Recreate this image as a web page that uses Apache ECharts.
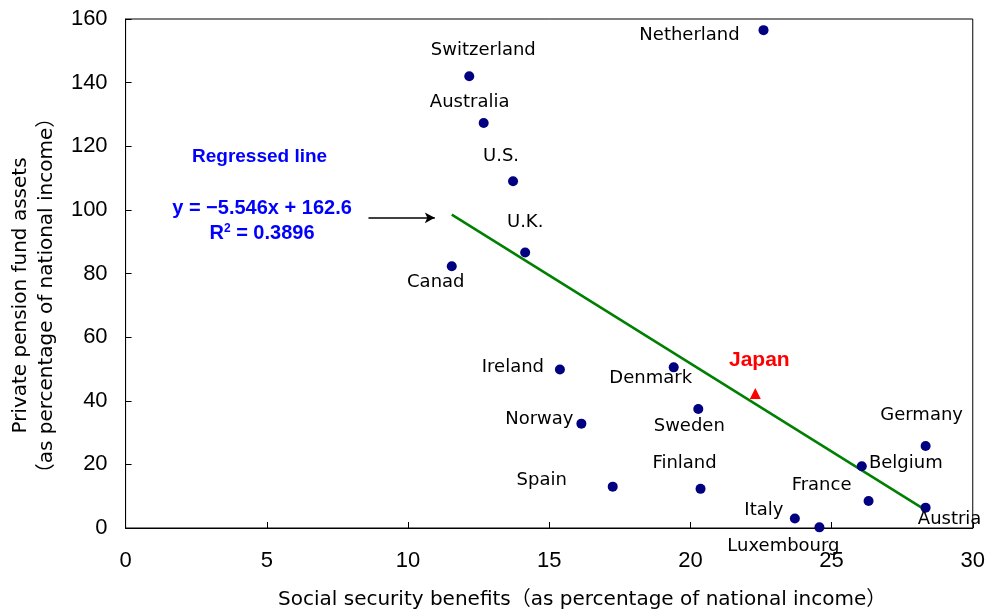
<!DOCTYPE html>
<html>
<head>
<meta charset="utf-8">
<script src="https://cdn.jsdelivr.net/npm/echarts@6/dist/echarts.min.js"></script>
<style>html,body{margin:0;padding:0;background:#fff}#c{width:988px;height:615px}</style>
</head>
<body>
<div id="c"></div>
<script>
// ---- data ----
const countries = ["Netherland","Switzerland","Australia","U.S.","U.K.","Canad","Ireland","Norway","Spain","Denmark","Sweden","Finland","Italy","Luxembourg","Belgium","France","Germany","Austria"];
const socialBenefits = [22.59,12.17,12.68,13.72,14.15,11.55,15.38,16.14,17.25,19.41,20.28,20.36,23.70,24.57,26.07,26.31,28.33,28.33];
const pensionAssets = [156.5,142.0,127.3,109.0,86.6,82.3,49.8,32.8,13.0,50.5,37.4,12.3,3.0,0.2,19.4,8.5,25.8,6.4];
const japanName = "Japan";
const japanBenefit = 22.30;
const japanAssets = 42.3;
const regressionX = [11.55, 28.33];
const regressionY = [98.5, 5.6];
const xTicks = {min:0, max:30, step:5};
const yTicks = {min:0, max:160, step:20};

// ---- styling (label offsets in px, relative to each point) ----
const labelOffsets = {
  "Netherland":[-74,5],"Switzerland":[14,-26],"Australia":[-14,-21],"U.S.":[-12,-25],
  "U.K.":[0,-30],"Canad":[-16,16],"Ireland":[-47,-2],"Norway":[-42,-4],"Spain":[-71,-6],
  "Denmark":[-23,11],"Sweden":[-9,17],"Finland":[-16,-26],"Italy":[-31,-8],
  "Luxembourg":[-36,19],"Belgium":[44,-3],"France":[-47,-16],"Germany":[-4,-31],"Austria":[24,12]
};
const arrowStart = [8.6, 97.5], arrowEnd = [10.95, 97.5];

const labelFont = "'DejaVu Sans','Noto Sans CJK JP',sans-serif";
const tickFont = "'Liberation Sans',Arial,sans-serif";

const countryData = countries.map((c,i)=>({
  name:c,
  value:[socialBenefits[i], pensionAssets[i]],
  label:{offset:labelOffsets[c]}
}));

const chart = echarts.init(document.getElementById('c'), null, {renderer:'canvas'});
chart.setOption({
  animation:false,
  backgroundColor:'#fff',
  grid:{left:123, top:19, right:14, bottom:86, show:true, borderColor:'#000', borderWidth:1},
  xAxis:{
    type:'value', min:xTicks.min, max:xTicks.max, interval:xTicks.step,
    splitLine:{show:false},
    axisLine:{show:true, onZero:false, lineStyle:{color:'#000', width:1}},
    axisTick:{show:true, inside:true, length:6, lineStyle:{color:'#000'}},
    axisLabel:{color:'#000', fontSize:22, fontFamily:tickFont, margin:22},
    name:'Social security benefits（as percentage of national income）',
    nameLocation:'middle', nameGap:62,
    nameTextStyle:{color:'#000', fontSize:20, fontFamily:labelFont, padding:[0,0,0,66]}
  },
  yAxis:{
    type:'value', min:yTicks.min, max:yTicks.max, interval:yTicks.step,
    splitLine:{show:false},
    axisLine:{show:true, onZero:false, lineStyle:{color:'#000', width:1}},
    axisTick:{show:true, inside:true, length:6, lineStyle:{color:'#000'}},
    axisLabel:{color:'#000', fontSize:22, fontFamily:tickFont, margin:18},
    name:'Private pension fund assets\n（as percentage of national income）',
    nameLocation:'middle', nameGap:63, nameRotate:90,
    nameTextStyle:{color:'#000', fontSize:20, lineHeight:26, fontFamily:labelFont, align:'center', padding:[0,44,0,0]}
  },
  series:[
    {
      type:'line', name:'Regressed line',
      data:regressionX.map((x,i)=>[x, regressionY[i]]),
      showSymbol:false, symbol:'none',
      lineStyle:{color:'#008000', width:2.5},
      z:2,
      markLine:{
        silent:true, symbol:['none','arrow'], symbolSize:[8,10],
        lineStyle:{color:'#000', width:1.5, type:'solid'},
        label:{show:false},
        data:[[{coord:arrowStart},{coord:arrowEnd}]]
      }
    },
    {
      type:'scatter', name:'Countries',
      data:countryData,
      symbol:'circle', symbolSize:10,
      itemStyle:{color:'#000080', opacity:1},
      z:3,
      label:{show:true, position:'inside', formatter:'{b}', color:'#000', opacity:1, fontSize:18, fontFamily:labelFont}
    },
    {
      type:'scatter', name:japanName,
      data:[{name:japanName, value:[japanBenefit, japanAssets]}],
      symbol:'triangle', symbolSize:11,
      itemStyle:{color:'#ff0000', opacity:1},
      z:3,
      label:{show:true, position:'inside', offset:[4,-33], formatter:'{b}', color:'#ff0000', opacity:1, fontSize:21, fontWeight:'bold', fontFamily:tickFont}
    }
  ],
  graphic:[
    {type:'text', left:192, top:147, style:{text:'Regressed line', fill:'#0000ff', font:"bold 19px 'Liberation Sans', Arial, sans-serif"}},
    {type:'text', x:262, y:208, style:{text:'y = −5.546x + 162.6', fill:'#0000ff', font:"bold 20px 'Liberation Sans', Arial, sans-serif", align:'center', verticalAlign:'middle'}},
    {type:'text', x:262, y:233, style:{rich:{s:{fontSize:12, verticalAlign:'top', fontWeight:'bold', fontFamily:"'Liberation Sans', Arial, sans-serif", padding:[0,0,8,0]}}, text:'R{s|2} = 0.3896', fill:'#0000ff', font:"bold 20px 'Liberation Sans', Arial, sans-serif", align:'center', verticalAlign:'middle'}}
  ]
});
</script>
</body>
</html>
